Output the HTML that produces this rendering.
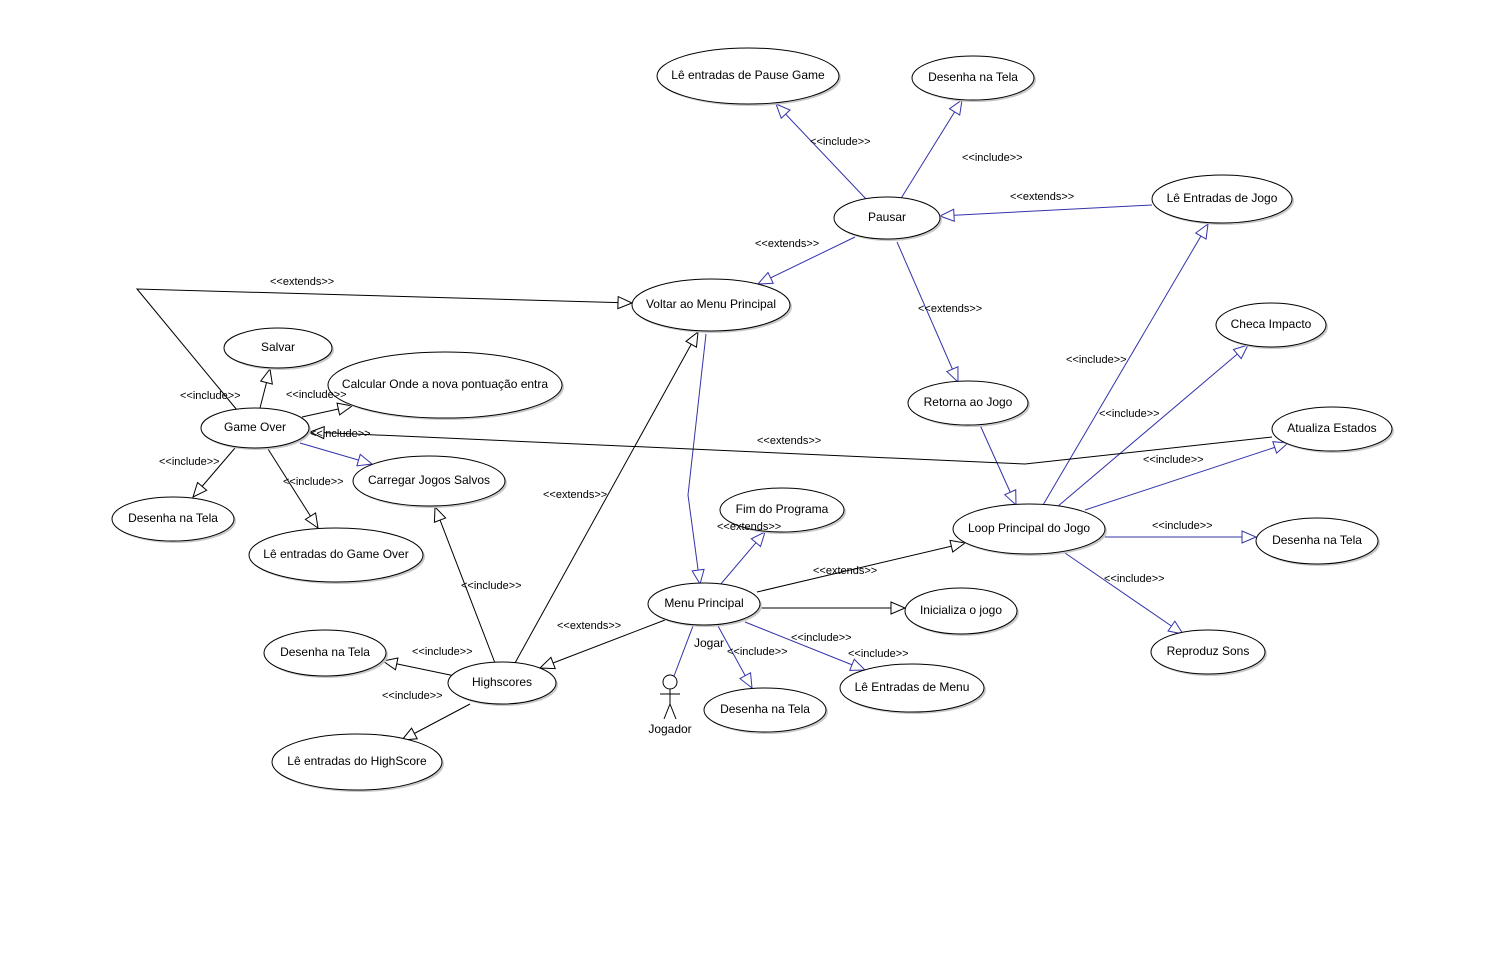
<!DOCTYPE html>
<html><head><meta charset="utf-8"><style>
html,body{margin:0;padding:0;background:#fff;}
svg{display:block;font-family:"Liberation Sans","DejaVu Sans",sans-serif;}
</style></head><body>
<svg id="s" width="1506" height="968" xmlns="http://www.w3.org/2000/svg">
<g id="edges" fill="none" stroke-width="1"></g>
<g id="nodes"></g>
<g id="labels" font-size="11" fill="#000"></g>
</svg>
<script>
var NS="http://www.w3.org/2000/svg";
function el(p,t,a,txt){var e=document.createElementNS(NS,t);for(var k in a)e.setAttribute(k,a[k]);if(txt)e.textContent=txt;document.getElementById(p).appendChild(e);return e;}
var nodes=[
[748,76,91,28,"Lê entradas de Pause Game"],
[973,78,61,22,"Desenha na Tela"],
[887,218,53,21,"Pausar"],
[1222,199,70,24,"Lê Entradas de Jogo"],
[711,305,79,26,"Voltar ao Menu Principal"],
[1271,325,55,22,"Checa Impacto"],
[968,403,60,22,"Retorna ao Jogo"],
[1332,429,60,22,"Atualiza Estados"],
[278,348,54,20,"Salvar"],
[445,385,117,33,"Calcular Onde a nova pontuação entra"],
[255,428,54,20,"Game Over"],
[173,519,61,22,"Desenha na Tela"],
[429,481,76,25,"Carregar Jogos Salvos"],
[336,555,87,27,"Lê entradas do Game Over"],
[782,510,62,22,"Fim do Programa"],
[1029,529,76,25,"Loop Principal do Jogo"],
[1317,541,61,23,"Desenha na Tela"],
[704,604,56,21,"Menu Principal"],
[961,611,56,23,"Inicializa o jogo"],
[1208,652,57,22,"Reproduz Sons"],
[325,653,61,23,"Desenha na Tela"],
[502,683,54,21,"Highscores"],
[765,710,61,22,"Desenha na Tela"],
[912,688,72,24,"Lê Entradas de Menu"],
[357,762,85,28,"Lê entradas do HighScore"]
];
nodes.forEach(function(n){
 el("nodes","ellipse",{cx:n[0]+2,cy:n[1]+2,rx:n[2],ry:n[3],fill:"#c8c8c8"});
 el("nodes","ellipse",{cx:n[0],cy:n[1],rx:n[2],ry:n[3],fill:"#fff",stroke:"#000"});
 el("nodes","text",{x:n[0],y:n[1]+3,"text-anchor":"middle","font-size":"12"},n[4]);
});
var B="#3333aa",K="#000";
var edges=[
[B,[[867,200],[776,104]],1],
[B,[[900,200],[962,100]],1],
[B,[[1152,205],[940,216]],1],
[B,[[855,237],[758,284]],1],
[B,[[897,242],[958,382]],1],
[B,[[980,425],[1016,505]],1],
[B,[[1043,505],[1208,224]],1],
[B,[[1057,507],[1248,345]],1],
[B,[[1085,510],[1288,443]],1],
[B,[[1105,537],[1256,537]],1],
[B,[[1065,553],[1183,634]],1],
[B,[[706,334],[688,495],[700,584]],1],
[B,[[720,585],[765,532]],1],
[B,[[745,622],[865,670]],1],
[B,[[718,626],[752,688]],1],
[B,[[693,626],[674,676]],0],
[B,[[300,443],[372,464]],1],
[K,[[757,592],[965,543]],1],
[K,[[760,608],[905,608]],1],
[K,[[665,620],[540,668]],1],
[K,[[515,663],[698,332]],1],
[K,[[495,663],[435,507]],1],
[K,[[455,676],[383,661]],1],
[K,[[470,704],[402,740]],1],
[K,[[237,410],[137,289],[632,303]],1],
[K,[[1272,437],[1025,464],[310,432]],1],
[K,[[260,408],[270,369]],1],
[K,[[302,417],[352,406]],1],
[K,[[235,448],[193,497]],1],
[K,[[268,449],[318,528]],1]
];
edges.forEach(function(e){
 var p=e[1];
 el("edges","polyline",{points:p.map(function(q){return q.join(",")}).join(" "),stroke:e[0]});
 if(e[2]){
  var a=p[p.length-2],b=p[p.length-1];var dx=b[0]-a[0],dy=b[1]-a[1],L=Math.hypot(dx,dy);dx/=L;dy/=L;
  var bx=b[0]-dx*14,by=b[1]-dy*14;
  el("edges","polygon",{points:b[0]+","+b[1]+" "+(bx-dy*6)+","+(by+dx*6)+" "+(bx+dy*6)+","+(by-dx*6),fill:"#fff",stroke:e[0]});
 }
});
var labels=[
[810,144,"<<include>>"],[962,160,"<<include>>"],[1010,199,"<<extends>>"],[755,246,"<<extends>>"],
[270,284,"<<extends>>"],[918,311,"<<extends>>"],[1066,362,"<<include>>"],[1099,416,"<<include>>"],
[757,443,"<<extends>>"],[1143,462,"<<include>>"],[180,398,"<<include>>"],[286,397,"<<include>>"],
[310,436,"<<include>>"],[159,464,"<<include>>"],[283,484,"<<include>>"],[543,497,"<<extends>>"],
[717,529,"<<extends>>"],[1152,528,"<<include>>"],[813,573,"<<extends>>"],[1104,581,"<<include>>"],
[461,588,"<<include>>"],[557,628,"<<extends>>"],[791,640,"<<include>>"],[412,654,"<<include>>"],
[727,654,"<<include>>"],[848,656,"<<include>>"],[382,698,"<<include>>"]
];
labels.forEach(function(l){el("labels","text",{x:l[0],y:l[1]+1},l[2]);});
el("labels","text",{x:694,y:647,"font-size":"12"},"Jogar");
var ax=670;
el("nodes","circle",{cx:ax,cy:682,r:7,fill:"#fff",stroke:"#000"});
el("nodes","line",{x1:ax,y1:689,x2:ax,y2:704,stroke:"#000"});
el("nodes","line",{x1:ax-10,y1:694,x2:ax+10,y2:694,stroke:"#000"});
el("nodes","line",{x1:ax,y1:704,x2:ax-6,y2:719,stroke:"#000"});
el("nodes","line",{x1:ax,y1:704,x2:ax+6,y2:719,stroke:"#000"});
el("nodes","text",{x:ax,y:733,"text-anchor":"middle","font-size":"12"},"Jogador");
</script>
</body></html>
